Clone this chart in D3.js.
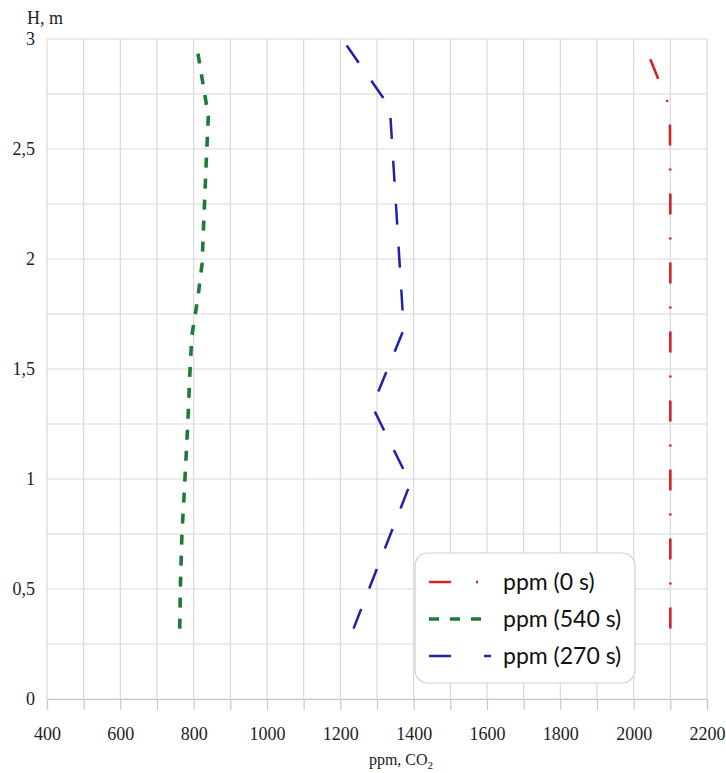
<!DOCTYPE html>
<html>
<head>
<meta charset="utf-8">
<script src="https://cdn.jsdelivr.net/npm/d3@7"></script>
<style>
  body { margin: 0; background: #fff; }
</style>
</head>
<body>
<div id="chart"></div>
<script>
// CO2 concentration vs height, three moments in time

const seriesNames = ["ppm (0 s)", "ppm (540 s)", "ppm (270 s)"]

// ppm (0 s)
const h0 = [0.32, 0.67, 1.0, 1.33, 1.67, 2.0, 2.33, 2.6, 2.70, 2.93]
const ppm0 = [2100, 2100, 2100, 2100, 2100, 2100, 2100, 2099, 2096, 2040]

// ppm (540 s)
const h540 = [0.32, 0.53, 0.75, 0.9, 1.25, 1.46, 1.65, 1.83, 1.98, 2.15, 2.43, 2.65, 2.96]
const ppm540 = [762, 764, 768, 773, 784, 789, 795, 812, 823, 827, 834, 840, 809]

// ppm (270 s)
const h270 = [0.32, 0.98, 1.33, 1.68, 2.69, 3.0]
const ppm270 = [1236, 1391, 1287, 1373, 1335, 1205]

const xTicks = d3.range(400, 2201, 100)
const yTicks = d3.range(0, 3.01, 0.25)

const anchoTotal = 726
const altoTotal = 773
const margins = { top: 39, right: 19, bottom: 74, left: 47 }
const ancho = anchoTotal - margins.left - margins.right
const alto = altoTotal - margins.top - margins.bottom

const svg = d3.select("#chart")
  .append("svg")
    .attr("width", anchoTotal)
    .attr("height", altoTotal)
    .style("font-family", "'Liberation Serif', 'Times New Roman', serif")

const g = svg.append("g")
  .attr("transform", `translate(${margins.left},${margins.top})`)

const x = d3.scaleLinear().domain([400, 2200]).range([0, ancho])
const y = d3.scaleLinear().domain([0, 3]).range([alto, 0])

// grid
g.append("g")
  .selectAll("line")
  .data(xTicks)
  .join("line")
    .attr("x1", d => x(d)).attr("x2", d => x(d))
    .attr("y1", 0).attr("y2", alto)
    .attr("stroke", "#d9d9d9")
    .attr("stroke-width", 1.2)

g.append("g")
  .selectAll("line")
  .data(yTicks)
  .join("line")
    .attr("x1", 0).attr("x2", ancho)
    .attr("y1", d => y(d)).attr("y2", d => y(d))
    .attr("stroke", "#d9d9d9")
    .attr("stroke-width", 1.2)

// x axis
const xAxis = g.append("g")
  .attr("transform", `translate(0,${alto})`)
  .call(d3.axisBottom(x)
    .tickValues(xTicks)
    .tickSize(11)
    .tickFormat(d => d % 200 === 0 ? d : ""))
xAxis.attr("font-family", null)
xAxis.select(".domain").attr("stroke", "#c8c8c8").attr("stroke-width", 1.2)
xAxis.selectAll(".tick line").attr("stroke", "#c8c8c8").attr("stroke-width", 1.2)
xAxis.selectAll(".tick text")
  .attr("y", 28)
  .attr("font-size", "18px")
  .attr("font-family", "'Liberation Serif', serif")
  .attr("fill", "#222")

// y axis labels
const fmtComa = d => String(d).replace(".", ",")
g.append("g")
  .selectAll("text")
  .data(d3.range(0, 3.01, 0.5))
  .join("text")
    .attr("x", -12)
    .attr("y", d => y(d))
    .attr("dy", "0.35em")
    .attr("text-anchor", "end")
    .attr("font-size", "18px")
    .attr("fill", "#222")
    .text(fmtComa)

svg.append("text")
  .attr("x", 27)
  .attr("y", 24)
  .attr("font-size", "18px")
  .attr("fill", "#222")
  .text("H, m")

const xt = svg.append("text")
  .attr("x", 401)
  .attr("y", 765)
  .attr("text-anchor", "middle")
  .attr("font-size", "16px")
  .attr("fill", "#222")
xt.append("tspan").text("ppm, CO")
xt.append("tspan").attr("font-size", "11px").attr("dy", 4).text("2")

// lines
const estilos = [
  { color: "#d2232a", width: 2.6, dash: "21,23,2,23" },
  { color: "#1b7c3a", width: 3.6, dash: "10,11" },
  { color: "#2020aa", width: 2.5, dash: "21,22" },
]
const datos = [
  h0.map((h, i) => ({ h: h, v: ppm0[i] })),
  h540.map((h, i) => ({ h: h, v: ppm540[i] })),
  h270.map((h, i) => ({ h: h, v: ppm270[i] })),
]

const linea = d3.line()
  .x(d => x(d.v))
  .y(d => y(d.h))

datos.forEach((d, i) => {
  g.append("path")
    .datum(d)
    .attr("d", linea)
    .attr("fill", "none")
    .attr("stroke", estilos[i].color)
    .attr("stroke-width", estilos[i].width)
    .attr("stroke-dasharray", estilos[i].dash)
})

// legend
const leg = svg.append("g").attr("transform", "translate(415,553)")
leg.append("rect")
  .attr("width", 220)
  .attr("height", 130)
  .attr("rx", 13)
  .attr("fill", "#fff")
  .attr("stroke", "#cfcfcf")
  .attr("stroke-width", 1.2)

const legDash = ["22,25,2,30", "10,11", "22,33"]
seriesNames.forEach((nombre, i) => {
  const yy = 29 + i * 37
  leg.append("line")
    .attr("x1", 14).attr("x2", 76)
    .attr("y1", yy).attr("y2", yy)
    .attr("stroke", estilos[i].color)
    .attr("stroke-width", estilos[i].width)
    .attr("stroke-dasharray", legDash[i])
  leg.append("text")
    .attr("x", 88)
    .attr("y", yy)
    .attr("dy", "0.35em")
    .attr("font-family", "Lato, 'Open Sans', sans-serif")
    .attr("font-size", "23px")
    .attr("fill", "#111")
    .text(nombre)
})
</script>
</body>
</html>
